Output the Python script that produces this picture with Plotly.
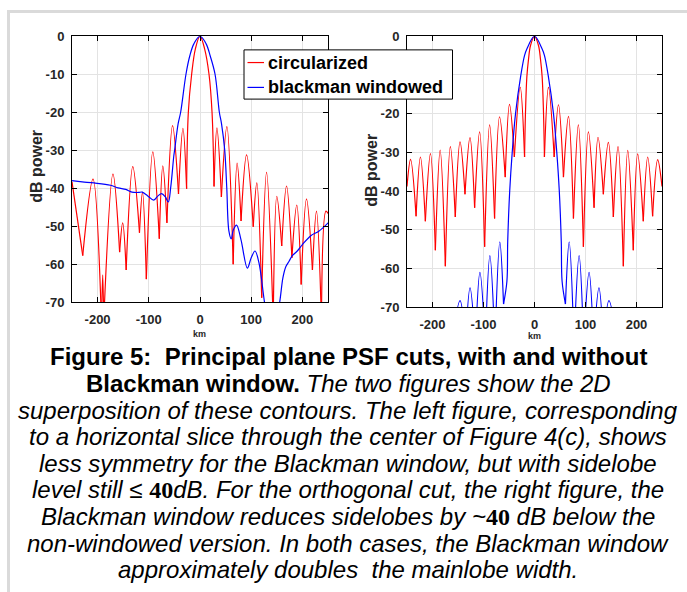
import plotly.graph_objects as go

W, H = 687, 592

# ---------------- data ----------------
# Left panel: horizontal cut
left_red_km = [-250, -229, -209, -192.5, -190, -188, -170, -157, -151, -144.2, -131.3, -118.2, -112.3,
               -104.8, -92.2, -79.5, -72.6, -64.6, -53.6, -42, -33.3, -26.2,
               -22.8, -16.3, -9, 0, 9, 17.6, 23.5,
               27.4, 33, 41.8, 52.5, 64.8, 72.5, 80.2, 91, 104, 111, 120.5, 130, 143, 150, 159.6,
               169, 179.5, 189, 197.6, 208, 219.6, 227.5, 237.2, 246, 250]
left_red_db = [-38.3, -57.7, -37.6, -75, -62.8, -75, -36.3, -56.8, -49.1, -61.5, -34.3, -51.7, -41.0,
               -63.9, -30.4, -53.3, -34.1, -49.1, -23.5, -41.5, -24.2, -40.1,
               -20, -10, -3.3, 0, -3.3, -10, -20,
               -39.5, -24.1, -42.3, -23.8, -60.0, -33.4, -48.6, -31.2, -50.1, -38.6, -68.8, -35.8, -75, -42.1, -55.2,
               -39.4, -58.3, -44.4, -65.3, -42.8, -61.5, -46.0, -75, -46.0, -46.6]

left_blue_km = [-250, -230, -207, -175, -160, -145, -133, -120, -113, -102, -90.4, -82, -75, -68, -62,
                -57, -51.2, -49.6, -42.7, -37.8, -27.4, -20, -12, 0, 12, 20, 29.4, 37.8, 42, 48.3, 52.3,
                56.4, 61, 65, 71.4, 80, 92.5, 100, 107.5, 115, 126, 140, 155.6, 162, 167.4, 174,
                180, 190, 200, 217, 232, 251]
left_blue_db = [-38.0, -38.3, -38.6, -39.2, -39.9, -40.3, -41.0, -41.1, -41.0, -42.0, -43.1, -42.0, -41.4, -42.2, -43.6,
                -39.5, -31.5, -30, -23, -20, -10, -5.2, -2.0, 0, -2.0, -5.2, -10, -20, -23, -30, -40,
                -51.2, -53.3, -51.0, -49.7, -53.5, -61.0, -58.3, -56.5, -59.5, -70, -82, -70, -63.5, -60.7, -59.2,
                -57.8, -56.5, -54.8, -52.4, -51.3, -49.0]

# Right panel: orthogonal cut
right_red_km = [-250, -243, -232.2, -223.7, -214, -204, -194.4, -185, -174.8, -165, -155.3, -146,
                -136.3, -126.5, -117.4, -107.6, -97.8, -88, -78.3, -68.5, -57.4, -49, -39.5, -28,
                -19.5, -17.5, -15, -11.7, -7.8, 0, 7.8, 11.7, 15, 17.5,
                19.5, 27.4, 38.6, 47, 56.8, 66.6, 76.4, 86, 95.9, 105.7, 116.8, 124.6, 135, 144.8,
                154.6, 163.8, 174.2, 182.8, 193.7, 202.3, 213.3, 222, 231.6, 241.5, 250]
right_red_db = [-38.8, -31.8, -46.5, -31.2, -47.8, -30.3, -55.3, -29.4, -59.4, -28.5, -46.7, -27.3,
                -40.8, -26.2, -44.3, -24.7, -54.4, -22.9, -47.1, -20.8, -36.4, -17.6, -31.2, -13.2,
                -31.2, -19, -10.5, -5.9, -2.4, 0, -2.4, -5.9, -10.5, -19,
                -31.2, -13.2, -31.2, -17.7, -36.4, -20.7, -47.1, -22.9, -54.4, -24.7, -44.3, -26.1, -40.8, -27.4,
                -46.7, -28.5, -59.4, -29.5, -55.3, -30.4, -47.8, -31.2, -46.5, -31.9, -38.8]

right_blue_km = [-163, -146, -135.5, -126.4, -116, -107, -96.5, -87.5, -77.5, -68, -60.7, -54.1, -52.5,
                 -48.6, -43.7, -37.2, -26.7, -19.6, -15, 0, 15, 19.6, 26.7, 37.2, 43.7, 48.6,
                 52.5, 54.1, 60.7, 68, 77.5, 87.5, 96.5, 107, 116, 126.4, 135.5, 146, 163]
right_blue_db = [-80, -68.3, -80, -65.0, -80, -61.0, -80, -56.7, -80, -53.1, -69.2, -63.3, -53,
                 -40, -30, -20, -10, -5, -3.3, 0, -3.3, -5, -10, -20, -30, -40,
                 -53, -63.3, -69.2, -53.1, -80, -56.7, -80, -61.0, -80, -65.0, -80, -68.3, -80]

x_ticks = [-200, -100, 0, 100, 200]
y_ticks = [-70, -60, -50, -40, -30, -20, -10, 0]
# on the right panel the -10 label sits behind the legend box in the original
right_y_hidden = [-10]
series_names = ["circularized", "blackman windowed"]

caption_lines = [
    "<b>Figure 5:  Principal plane PSF cuts, with and without</b>",
    "<b>Blackman window.</b> <i>The two figures show the 2D</i>",
    "<i>superposition of these contours. The left figure, corresponding</i>",
    "<i>to a horizontal slice through the center of Figure 4(c), shows</i>",
    "<i>less symmetry for the Blackman window, but with sidelobe</i>",
    "<i>level still ≤ </i><b><span style=\"font-family:'Liberation Serif'\">40</span></b><i>dB. For the orthogonal cut, the right figure, the</i>",
    "<i>Blackman window reduces sidelobes by ~</i><b><span style=\"font-family:'Liberation Serif'\">40</span></b><i> dB below the</i>",
    "<i>non-windowed version. In both cases, the Blackman window</i>",
    "<i>approximately doubles  the mainlobe width.</i>",
]


def split_at_nulls(xs, ys, split=True):
    """Break the polyline at local minima so nulls render as sharp cusps."""
    ox, oy = [], []
    n = len(xs)
    for i in range(n):
        ox.append(xs[i]); oy.append(ys[i])
        if split and 0 < i < n - 1 and ys[i] < ys[i - 1] and ys[i] < ys[i + 1]:
            ox += [None, xs[i]]; oy += [None, ys[i]]
    return ox, oy


RED, BLUE = "#ff0000", "#0000ff"
fig = go.Figure()

for xs, ys, col, name, ax, sp in [
    (left_red_km, left_red_db, RED, series_names[0], 1, True),
    (left_blue_km, left_blue_db, BLUE, series_names[1], 1, False),
    (right_red_km, right_red_db, RED, series_names[0], 2, True),
    (right_blue_km, right_blue_db, BLUE, series_names[1], 2, True),
]:
    px_, py_ = split_at_nulls(xs, ys, sp)
    fig.add_trace(go.Scatter(
        x=px_, y=py_, mode="lines", name=name, showlegend=False,
        line=dict(color=col, width=1.2, shape="spline", smoothing=1, simplify=False),
        connectgaps=False,
        xaxis="x" if ax == 1 else "x2", yaxis="y" if ax == 1 else "y2",
    ))

FONT = "Liberation Sans, Arial, sans-serif"


def px_x(v):
    return v / W


def px_y(v):
    return 1 - v / H


axis_common = dict(
    showline=True, linecolor="black", linewidth=1, mirror="ticks",
    ticks="inside", ticklen=5, tickcolor="black",
    showgrid=True, gridcolor="#e3e3e3", gridwidth=1, zeroline=False,
    tickfont=dict(family=FONT, size=13, color="#262626", weight="bold"),
)
xt = dict(tickvals=x_ticks, ticktext=[str(v) for v in x_ticks], ticklabelstandoff=5)
yt_left = dict(tickvals=y_ticks, ticktext=[str(v) for v in y_ticks], ticklabelstandoff=4)
yt_right = dict(tickvals=y_ticks,
                ticktext=["" if v in right_y_hidden else str(v) for v in y_ticks],
                ticklabelstandoff=4)

fig.update_layout(
    width=W, height=H,
    margin=dict(l=0, r=0, t=0, b=0),
    paper_bgcolor="white", plot_bgcolor="white",
    xaxis=dict(domain=[px_x(72), px_x(328)], range=[-250, 250], anchor="y", **xt, **axis_common),
    yaxis=dict(domain=[px_y(303), px_y(30)], range=[-70, 0], anchor="x", **yt_left, **axis_common),
    xaxis2=dict(domain=[px_x(407), px_x(662)], range=[-250, 250], anchor="y2", **xt, **axis_common),
    yaxis2=dict(domain=[px_y(308), px_y(30)], range=[-70, 0], anchor="x2", **yt_right, **axis_common),
    showlegend=False,
)

shapes = []
# page frame
shapes.append(dict(type="rect", xref="paper", yref="paper",
                   x0=px_x(8.5), x1=px_x(800), y0=px_y(900), y1=px_y(4.5),
                   line=dict(color="#dadada", width=3), fillcolor="rgba(0,0,0,0)", layer="below"))
# legend box (drawn manually to match the original legend geometry)
LEG = dict(x0=244, x1=452.5, y0=44, y1=94.5)
shapes.append(dict(type="rect", xref="paper", yref="paper",
                   x0=px_x(LEG["x0"]), x1=px_x(LEG["x1"]), y0=px_y(LEG["y1"]), y1=px_y(LEG["y0"]),
                   line=dict(color="black", width=1), fillcolor="white", layer="above"))
ann = []
for i, (name, col) in enumerate(zip(series_names, [RED, BLUE])):
    yy = 57 + i * 25.5
    shapes.append(dict(type="line", xref="paper", yref="paper",
                       x0=px_x(247.5), x1=px_x(264), y0=px_y(yy), y1=px_y(yy),
                       line=dict(color=col, width=1.2), layer="above"))
    ann.append(dict(text="<b>" + name + "</b>", x=px_x(266), y=px_y(yy), xref="paper", yref="paper",
                    xanchor="left", yanchor="middle", showarrow=False,
                    font=dict(family=FONT, size=18, color="black")))

for xc, yc in [(37, 164), (372, 168)]:
    ann.append(dict(text="<b>dB power</b>", x=px_x(xc), y=px_y(yc), xref="paper", yref="paper",
                    xanchor="center", yanchor="middle",
                    showarrow=False, textangle=-90, font=dict(family=FONT, size=16, color="#262626")))
for xc, yc in [(200, 335), (534, 338)]:
    ann.append(dict(text="<b>km</b>", x=px_x(xc), y=px_y(yc), xref="paper", yref="paper",
                    xanchor="center", yanchor="middle",
                    showarrow=False, font=dict(family=FONT, size=9, color="#262626")))

y0, dy = 359, 27.3
for i, line in enumerate(caption_lines):
    ann.append(dict(text=line, x=px_x(348), y=px_y(y0 + i * dy), xref="paper", yref="paper",
                    xanchor="center", yanchor="middle", showarrow=False,
                    font=dict(family="Liberation Sans, Arial, sans-serif", size=24, color="black")))
fig.update_layout(annotations=ann, shapes=shapes)

fig.write_html("out.html")
